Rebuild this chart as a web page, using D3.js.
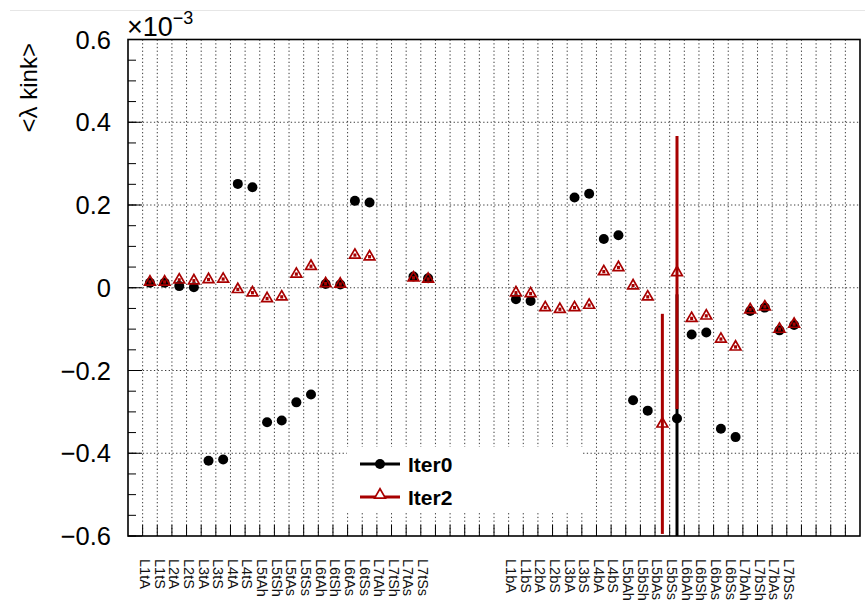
<!DOCTYPE html>
<html lang="en">
<head>
<meta charset="UTF-8">
<title>lambda kink per layer</title>
<script src="https://d3js.org/d3.v7.min.js"></script>
<style>
  body { margin: 0; background: #fff; font-family: 'Liberation Sans', Arial, sans-serif; }
  .grid { fill: none; stroke: #3a3a3a; stroke-width: 1; stroke-dasharray: 1.3,2.4; }
</style>
</head>
<body>
<script>
// layer labels, top and bottom modules
const topLabels = ["L1tA","L1tS","L2tA","L2tS","L3tA","L3tS","L4tA","L4tS","L5tAh","L5tSh","L5tAs","L5tSs","L6tAh","L6tSh","L6tAs","L6tSs","L7tAh","L7tSh","L7tAs","L7tSs"];
const botLabels = ["L1bA","L1bS","L2bA","L2bS","L3bA","L3bS","L4bA","L4bS","L5bAh","L5bSh","L5bAs","L5bSs","L6bAh","L6bSh","L6bAs","L6bSs","L7bAh","L7bSh","L7bAs","L7bSs"];

// <lambda kink> in units of 1e-3 (null = no point)
const iter0Top = [0.012, 0.012, 0.004, 0.001, -0.418, -0.415, 0.251, 0.243, -0.325, -0.321, -0.277, -0.258, 0.009, 0.008, 0.210, 0.206, null, null, 0.027, 0.023];
const iter0Bot = [-0.028, -0.032, null, null, 0.218, 0.227, 0.118, 0.127, -0.272, -0.297, null, -0.316, -0.113, -0.108, -0.341, -0.361, -0.056, -0.048, -0.103, -0.090];
const iter2Top = [0.014, 0.014, 0.019, 0.017, 0.020, 0.021, -0.004, -0.012, -0.026, -0.022, 0.033, 0.052, 0.010, 0.009, 0.079, 0.075, null, null, 0.024, 0.021];
const iter2Bot = [-0.012, -0.014, -0.048, -0.052, -0.048, -0.042, 0.039, 0.049, 0.005, -0.022, -0.329, 0.037, -0.074, -0.068, -0.124, -0.143, -0.053, -0.046, -0.100, -0.088];
// errors (mostly hidden under the markers)
const err0Top = Array(20).fill(0.004);
const err0Bot = [0.004,0.004,0,0,0.004,0.004,0.004,0.004,0.004,0.004,0,0.30,0.004,0.004,0.004,0.004,0.004,0.004,0.004,0.004];
const err2Top = Array(20).fill(0.004);
const err2Bot = [0.004,0.004,0.004,0.004,0.004,0.004,0.004,0.004,0.004,0.004,0.266,0.33,0.004,0.004,0.004,0.004,0.004,0.004,0.004,0.004];

const yTicks = [-0.6, -0.4, -0.2, 0, 0.2, 0.4, 0.6];

// histogram layout: 1 empty bin, 20 top, 5 empty, 20 bottom, 4 empty
const blank = n => Array(n).fill(null);
const categories = [...blank(1), ...topLabels, ...blank(5), ...botLabels, ...blank(4)];
const iter0 = [...blank(1), ...iter0Top, ...blank(5), ...iter0Bot, ...blank(4)];
const iter2 = [...blank(1), ...iter2Top, ...blank(5), ...iter2Bot, ...blank(4)];
const err0 = [...blank(1), ...err0Top, ...blank(5), ...err0Bot, ...blank(4)];
const err2 = [...blank(1), ...err2Top, ...blank(5), ...err2Bot, ...blank(4)];

const W = 865, H = 601;
const fL = 128, fR = 860, fT = 39.5, fB = 536;
const red = "#a80000";

const x = d3.scaleBand().domain(d3.range(categories.length)).range([fL, fR]).padding(0);
const y = d3.scaleLinear().domain([-0.6, 0.6]).range([fB, fT]);
const cx = i => x(i) + x.bandwidth() / 2;

const svg = d3.select("body").append("svg").attr("width", W).attr("height", H);

// faint line at the top of the canvas
svg.append("line").attr("x1", 10).attr("x2", W).attr("y1", 10.5).attr("y2", 10.5)
  .attr("stroke", "#e6e6e6").attr("stroke-width", 1);

svg.append("clipPath").attr("id", "frame").append("rect")
  .attr("x", fL).attr("y", fT).attr("width", fR - fL).attr("height", fB - fT);

// grid
const edges = d3.range(1, categories.length);
svg.append("g").selectAll("line").data(edges).join("line")
  .attr("class", "grid")
  .attr("x1", d => x(d)).attr("x2", d => x(d))
  .attr("y1", fT).attr("y2", fB);
svg.append("g").selectAll("line").data(yTicks.filter(d => Math.abs(d) < 0.6)).join("line")
  .attr("class", "grid")
  .attr("x1", fL).attr("x2", fR)
  .attr("y1", d => y(d)).attr("y2", d => y(d));

const plot = svg.append("g").attr("clip-path", "url(#frame)");
const idx = arr => d3.range(arr.length).filter(i => arr[i] !== null);

// Iter0: error bars + filled circles
plot.append("g").selectAll("line").data(idx(iter0)).join("line")
  .attr("x1", cx).attr("x2", cx)
  .attr("y1", i => y(iter0[i] + err0[i])).attr("y2", i => y(iter0[i] - err0[i]))
  .attr("stroke", "#000").attr("stroke-width", 3);
plot.append("g").selectAll("circle").data(idx(iter0)).join("circle")
  .attr("cx", cx).attr("cy", i => y(iter0[i])).attr("r", 5)
  .attr("fill", "#000");

// Iter2: error bars + open triangles
plot.append("g").selectAll("line").data(idx(iter2)).join("line")
  .attr("x1", cx).attr("x2", cx)
  .attr("y1", i => y(iter2[i] + err2[i])).attr("y2", i => y(iter2[i] - err2[i]))
  .attr("stroke", red).attr("stroke-width", 3);
const tri = d3.symbol().type(d3.symbolTriangle).size(50);
plot.append("g").selectAll("path").data(idx(iter2)).join("path")
  .attr("d", tri)
  .attr("transform", i => `translate(${cx(i)},${y(iter2[i])})`)
  .attr("fill", "none").attr("stroke", red).attr("stroke-width", 1.7);

// legend
const leg = svg.append("g");
leg.append("rect").attr("x", 347).attr("y", 447).attr("width", 236).attr("height", 65).attr("fill", "#fff");
const legItems = [
  { name: "Iter0", color: "#000", y: 464 },
  { name: "Iter2", color: red, y: 497 }
];
legItems.forEach((d, k) => {
  leg.append("line").attr("x1", 360).attr("x2", 400).attr("y1", d.y).attr("y2", d.y)
    .attr("stroke", d.color).attr("stroke-width", 3);
  if (k === 0) {
    leg.append("circle").attr("cx", 380).attr("cy", d.y).attr("r", 5).attr("fill", "#000");
  } else {
    leg.append("path").attr("d", tri).attr("transform", `translate(380,${d.y - 2})`)
      .attr("fill", "#fff").attr("stroke", red).attr("stroke-width", 1.7);
  }
  leg.append("text").attr("x", 408).attr("y", d.y + 8)
    .attr("font-size", 21).attr("font-weight", "bold").attr("fill", "#000")
    .text(d.name);
});

// y axis: major and minor ticks pointing inward
const minor = d3.range(-0.6, 0.6001, 0.05);
svg.append("g").selectAll("line").data(minor).join("line")
  .attr("x1", fL).attr("x2", fL + 8)
  .attr("y1", d => y(d)).attr("y2", d => y(d))
  .attr("stroke", "#000").attr("stroke-width", 1);
svg.append("g").selectAll("line").data(yTicks).join("line")
  .attr("x1", fL).attr("x2", fL + 14)
  .attr("y1", d => y(d)).attr("y2", d => y(d))
  .attr("stroke", "#000").attr("stroke-width", 1);
const fmt = d => d === 0 ? "0" : d3.format(".1f")(d);
svg.append("g").selectAll("text").data(yTicks).join("text")
  .attr("x", 111).attr("y", d => y(d) + 9)
  .attr("text-anchor", "end").attr("font-size", 25.5).attr("fill", "#000")
  .text(fmt);

// x axis ticks at bin edges
svg.append("g").selectAll("line").data(edges).join("line")
  .attr("x1", d => x(d)).attr("x2", d => x(d))
  .attr("y1", fB).attr("y2", fB - 11)
  .attr("stroke", "#000").attr("stroke-width", 1);

// vertical bin labels, reading downwards
svg.append("g").selectAll("text").data(idx(categories)).join("text")
  .attr("transform", i => `translate(${cx(i) - 10},559) rotate(90)`)
  .attr("font-size", 14.5).attr("fill", "#111")
  .text(i => categories[i]);

// frame
svg.append("rect").attr("x", fL).attr("y", fT).attr("width", fR - fL).attr("height", fB - fT)
  .attr("fill", "none").attr("stroke", "#000").attr("stroke-width", 1.6);

// exponent and axis title
const expo = svg.append("text").attr("x", 127).attr("y", 36).attr("font-size", 27).attr("fill", "#000");
expo.append("tspan").text("×10");
expo.append("tspan").attr("dy", -12).attr("font-size", 18).text("−3");

svg.append("text")
  .attr("transform", "translate(37,43) rotate(-90)")
  .attr("text-anchor", "end").attr("font-size", 24).attr("fill", "#000")
  .text("<λ kink>");
</script>
</body>
</html>
